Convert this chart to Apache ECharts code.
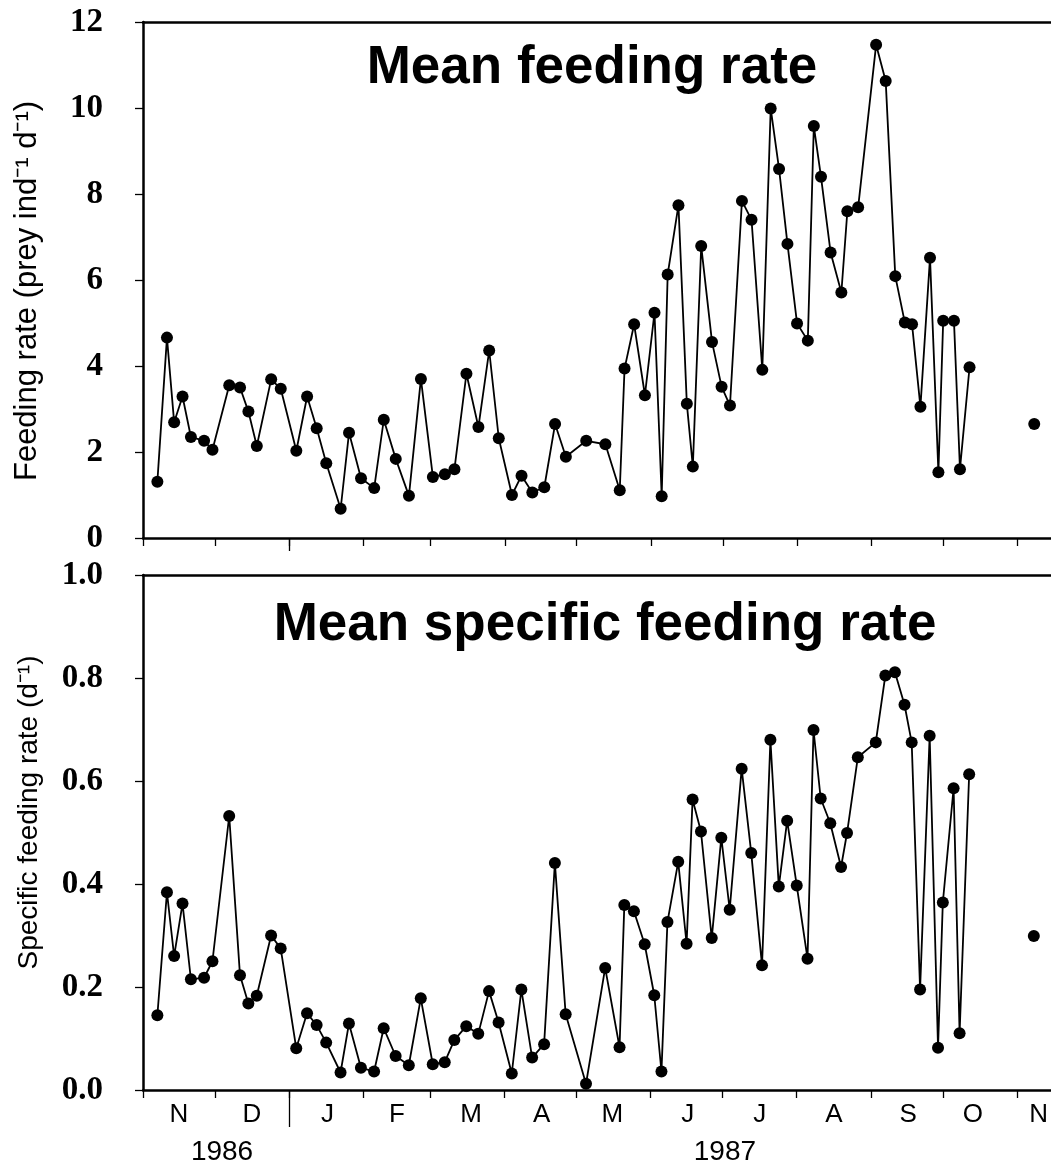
<!DOCTYPE html>
<html>
<head>
<meta charset="utf-8">
<script src="https://cdn.jsdelivr.net/npm/echarts@6/dist/echarts.min.js"></script>
<style>
  html, body { margin: 0; padding: 0; background: #fff; }
  #chart { width: 1051px; height: 1171px; }
</style>
</head>
<body>
<div id="chart"></div>
<script>
// x = days since 1 Nov 1986
var days = [6, 10, 13, 16.5, 20, 25.5, 29, 36, 40.5, 44,
  47.5, 53.5, 57.5, 64, 68.5, 72.5, 76.5, 82.5, 86, 91,
  96.5, 100.5, 105.5, 111, 116, 121, 126, 130, 135, 140,
  144.5, 148.5, 154, 158, 162.5, 167.5, 172, 176.5, 185, 193,
  199, 201, 205, 209.5, 213.5, 216.5, 219, 223.5, 227, 229.5,
  233, 237.5, 241.5, 245, 250, 254, 258.5, 262, 265.5, 269,
  273, 277.5, 280, 283, 287, 291.5, 294, 298.5, 306, 310,
  314, 318, 321, 324.5, 328.5, 332, 334, 338.5, 341, 345,
  372];

var feedingRate = [1.31, 4.66, 2.69, 3.29, 2.35, 2.26, 2.05, 3.55, 3.50, 2.94,
  2.14, 3.69, 3.47, 2.03, 3.29, 2.55, 1.74, 0.68, 2.45, 1.39,
  1.16, 2.75, 1.84, 0.98, 3.70, 1.42, 1.48, 1.60, 3.82, 2.58,
  4.36, 2.32, 1.00, 1.45, 1.06, 1.18, 2.65, 1.89, 2.26, 2.18,
  1.11, 3.94, 4.97, 3.32, 5.24, 0.97, 6.13, 7.74, 3.12, 1.66,
  6.79, 4.56, 3.52, 3.08, 7.84, 7.40, 3.91, 9.99, 8.58, 6.84,
  4.99, 4.59, 9.58, 8.40, 6.64, 5.71, 7.60, 7.69, 11.47, 10.63,
  6.09, 5.01, 4.97, 3.05, 6.52, 1.53, 5.05, 5.05, 1.60, 3.97,
  2.65];

var specificRate = [0.145, 0.384, 0.260, 0.362, 0.215, 0.218, 0.250, 0.532, 0.223, 0.168,
  0.183, 0.300, 0.275, 0.081, 0.149, 0.126, 0.092, 0.034, 0.129, 0.043,
  0.036, 0.120, 0.066, 0.048, 0.178, 0.050, 0.054, 0.097, 0.124, 0.109,
  0.192, 0.131, 0.032, 0.195, 0.063, 0.089, 0.441, 0.147, 0.012, 0.237,
  0.083, 0.359, 0.347, 0.283, 0.184, 0.036, 0.326, 0.443, 0.284, 0.564,
  0.502, 0.295, 0.490, 0.350, 0.624, 0.460, 0.242, 0.680, 0.395, 0.523,
  0.397, 0.255, 0.699, 0.566, 0.518, 0.433, 0.499, 0.646, 0.675, 0.805,
  0.811, 0.748, 0.675, 0.195, 0.688, 0.082, 0.364, 0.586, 0.110, 0.613,
  0.299];

var monthStarts = [0, 30, 61, 92, 120, 151, 181, 212, 242, 273, 304, 334, 365];
var monthLetters = ['N', 'D', 'J', 'F', 'M', 'A', 'M', 'J', 'J', 'A', 'S', 'O', 'N'];
var monthLabelDays = [15, 45.5, 77, 106, 137, 166.5, 196, 227.5, 257.5, 288.5, 319.5, 346.5, 374];
var yearLabels = ['1986', '1987'];
var yearLabelDays = [33, 243];
var yearBreak = [61];

var ink = '#000';
var sans = '"Liberation Sans", Arial, sans-serif';
var serif = '"Liberation Serif", "Times New Roman", serif';
var spine = { color: ink, width: 2.5 };
var tickStyle = { color: ink, width: 1.3 };

// break the line where sampling stops for a long while
function toSeries(vals) {
  var out = [];
  for (var i = 0; i < days.length; i++) {
    if (i > 0 && days[i] - days[i - 1] > 20) out.push([days[i - 1] + 1, '-']);
    out.push([days[i], vals[i]]);
  }
  return out;
}

function xAx(grid, extra) {
  return Object.assign({
    gridIndex: grid, type: 'value', min: 0, max: 379,
    splitLine: { show: false },
    axisLabel: { show: false },
    axisTick: { show: false },
    axisLine: { show: false, onZero: false }
  }, extra);
}

function yAx(grid, extra) {
  return Object.assign({
    gridIndex: grid, type: 'value',
    nameLocation: 'middle', nameRotate: 90, nameGap: 100,
    axisLine: { show: true, onZero: false, lineStyle: spine },
    axisTick: { show: true, length: 8, lineStyle: tickStyle },
    axisLabel: { fontFamily: serif, fontWeight: 'bold', fontSize: 33, color: ink, margin: 40 },
    splitLine: { show: false }
  }, extra);
}

var chart = echarts.init(document.getElementById('chart'), null, { renderer: 'canvas' });
chart.setOption({
  animation: false,
  backgroundColor: '#fff',
  grid: [
    { left: 143, right: 0, top: 22, height: 516 },
    { left: 143, right: 0, top: 575, height: 515 }
  ],
  xAxis: [
    xAx(0, { position: 'bottom', axisLine: { show: true, onZero: false, lineStyle: spine },
      axisTick: { show: true, customValues: monthStarts, length: 8, lineStyle: tickStyle } }),
    xAx(0, { position: 'bottom', axisTick: { show: true, customValues: yearBreak, length: 13, lineStyle: tickStyle } }),
    xAx(0, { position: 'top', axisLine: { show: true, onZero: false, lineStyle: spine } }),
    xAx(1, { position: 'bottom', axisLine: { show: true, onZero: false, lineStyle: spine },
      axisTick: { show: true, customValues: monthStarts, length: 8, lineStyle: tickStyle },
      axisLabel: { show: true, customValues: monthLabelDays, margin: 12, fontFamily: sans, fontSize: 26, color: ink,
        formatter: function(v) { return monthLetters[monthLabelDays.indexOf(v)]; } } }),
    xAx(1, { position: 'bottom', axisTick: { show: true, customValues: yearBreak, length: 37, lineStyle: tickStyle } }),
    xAx(1, { position: 'top', axisLine: { show: true, onZero: false, lineStyle: spine } }),
    xAx(1, { position: 'bottom',
      axisLabel: { show: true, customValues: yearLabelDays, margin: 48, fontFamily: sans, fontSize: 28, color: ink,
        formatter: function(v) { return yearLabels[yearLabelDays.indexOf(v)]; } } })
  ],
  yAxis: [
    yAx(0, { min: 0, max: 12, interval: 2, name: 'Feeding rate (prey ind\u207B\u00B9 d\u207B\u00B9)',
      nameTextStyle: { fontFamily: sans, fontSize: 31, color: ink, padding: [0, 22, 0, 0] } }),
    yAx(1, { min: 0, max: 1, interval: 0.2, name: 'Specific feeding rate (d\u207B\u00B9)',
      nameTextStyle: { fontFamily: sans, fontSize: 28, color: ink, padding: [0, 0, 0, 40] },
      axisLabel: { fontFamily: serif, fontWeight: 'bold', fontSize: 33, color: ink, margin: 40,
        formatter: function(v) { return v.toFixed(1); } } })
  ],
  graphic: [
    { type: 'text', x: 592, y: 68, z: 100,
      style: { text: 'Mean feeding rate', font: 'bold 53px "Liberation Sans", Arial', fill: ink, align: 'center', verticalAlign: 'middle' } },
    { type: 'text', x: 605, y: 625, z: 100,
      style: { text: 'Mean specific feeding rate', font: 'bold 53px "Liberation Sans", Arial', fill: ink, align: 'center', verticalAlign: 'middle' } }
  ],
  series: [
    { type: 'line', xAxisIndex: 0, yAxisIndex: 0, data: toSeries(feedingRate),
      symbol: 'circle', symbolSize: 12, showAllSymbol: true, connectNulls: false,
      itemStyle: { color: ink }, lineStyle: { color: ink, width: 1.8 } },
    { type: 'line', xAxisIndex: 3, yAxisIndex: 1, data: toSeries(specificRate),
      symbol: 'circle', symbolSize: 12, showAllSymbol: true, connectNulls: false,
      itemStyle: { color: ink }, lineStyle: { color: ink, width: 1.8 } }
  ]
});
window.addEventListener('resize', function() { chart.resize(); });
</script>
</body>
</html>
